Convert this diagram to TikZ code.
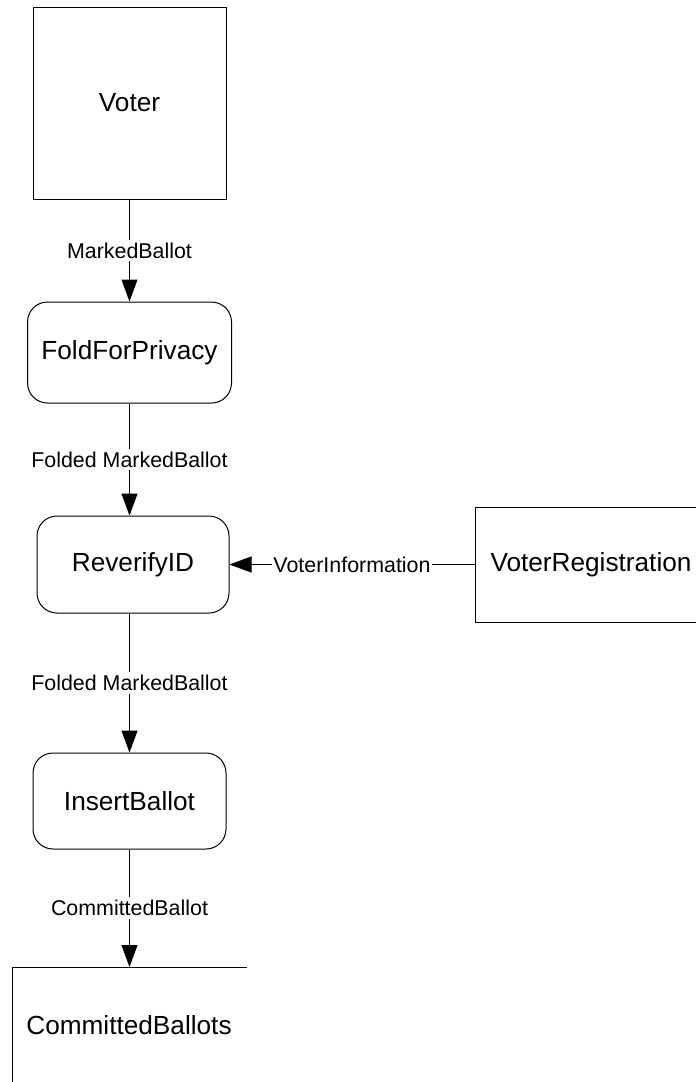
\documentclass[tikz,border=0pt]{standalone}
\usepackage{fontspec}
\setmainfont{Liberation Sans}
\usetikzlibrary{arrows.meta}
\begin{document}
\begin{tikzpicture}[x=1pt,y=-1pt,
  line width=1pt,
  bigtext/.style={font=\fontsize{26.2}{30}\selectfont},
  entity/.style={draw,rectangle,inner sep=0pt,bigtext},
  process/.style={draw,rectangle,rounded corners=20pt,inner sep=0pt,bigtext},
  flow/.style={-{Triangle[length=22pt,width=16pt]}},
  lbl/.style={fill=white,inner xsep=1pt,inner ysep=3pt,font=\fontsize{21.4}{24}\selectfont}]
\useasboundingbox (0,0) rectangle (696,1082);
\node[entity,minimum width=193pt,minimum height=192pt] (voter) at (129.5,103) {Voter};
\node[process,minimum width=204pt,minimum height=101pt] (fold) at (129.5,352.5) {FoldForPrivacy};
\node[process,minimum width=192pt,minimum height=97pt] (rev) at (133,564.5) {ReverifyID};
\node[process,minimum width=193pt,minimum height=96pt] (ins) at (129.5,801) {InsertBallot};
\node[entity,minimum width=232pt,minimum height=115pt] (vreg) at (591,564.5) {VoterRegistration};
\node[bigtext,inner sep=0pt] (cb) at (129,1025) {CommittedBallots};
\coordinate (cbtl) at (12,967);
\coordinate (cbtr) at (247,967);
\coordinate (cbbl) at (12,1083);
\coordinate (cbin) at (129.5,967);
\draw (cbtr) -- (cbtl) -- (cbbl);
\draw[flow] (voter.south) -- node[lbl]{MarkedBallot} (fold.north);
\draw[flow] (fold.south) -- node[lbl]{Folded MarkedBallot} (fold.south |- rev.north);
\draw[flow] (vreg.west) -- node[lbl]{VoterInformation} (rev.east);
\draw[flow] (fold.south |- rev.south) -- node[lbl]{Folded MarkedBallot} (ins.north);
\draw[flow] (ins.south) -- node[lbl]{CommittedBallot} (cbin);
\end{tikzpicture}
\end{document}
